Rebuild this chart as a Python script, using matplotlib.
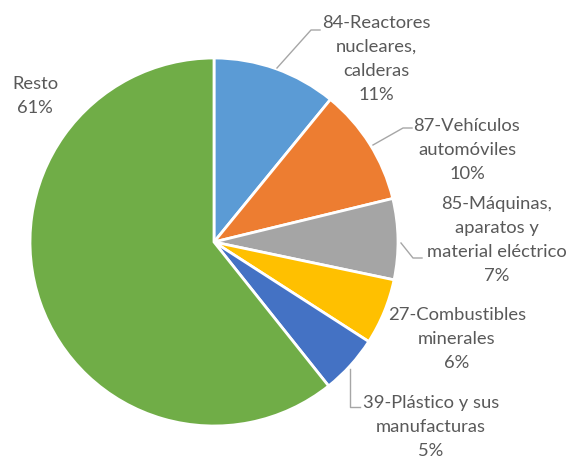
import matplotlib
matplotlib.use("Agg")
import matplotlib.pyplot as plt

categories = ["84-Reactores\nnucleares,\ncalderas", "87-Vehículos\nautomóviles",
              "85-Máquinas,\naparatos y\nmaterial eléctrico", "27-Combustibles\nminerales",
              "39-Plástico y sus\nmanufacturas", "Resto"]
values = [10.9, 10.3, 7.1, 5.8, 5.2, 60.7]
colors = ["#5B9BD5", "#ED7D31", "#A5A5A5", "#FFC000", "#4472C4", "#70AD47"]

W, H = 572, 457
fig = plt.figure(figsize=(W / 100, H / 100), dpi=100)
ax = fig.add_axes([0, 0, 1, 1])

cx, cy, r = 214, H - 242, 184
ax.pie(values, colors=colors, startangle=90, counterclock=False,
       center=(cx, cy), radius=r, frame=True,
       wedgeprops=dict(edgecolor="white", linewidth=2))
ax.set_xlim(0, W)
ax.set_ylim(0, H)
ax.axis("off")

total = sum(values)
# label positions (pixel coords, y from top)
label_pos = [(376, 59), (467, 150), (497, 240), (457, 339), (431, 427), (35, 96)]
for cat, v, (lx, ly) in zip(categories, values, label_pos):
    txt = f"{cat}\n{round(v / total * 100)}%"
    ax.text(lx, H - ly, txt, ha="center", va="center", fontsize=13.2,
            family="Lato", color="#595959", linespacing=1.6)

leaders = [
    [(277, 68), (311, 30), (320, 30)],
    [(373, 145), (403, 128), (412, 128)],
    [(401, 243), (413, 258), (422, 258)],
    [(350, 369), (350, 407), (360, 407)],
]
for pts in leaders:
    xs = [p[0] for p in pts]
    ys = [H - p[1] for p in pts]
    ax.plot(xs, ys, color="#A6A6A6", linewidth=1)

fig.savefig("out.png", dpi=100)
